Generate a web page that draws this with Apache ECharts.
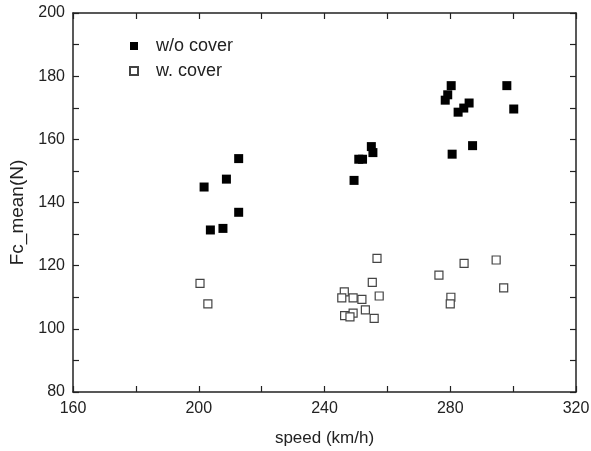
<!DOCTYPE html>
<html>
<head>
<meta charset="utf-8">
<script src="https://cdn.jsdelivr.net/npm/echarts@6/dist/echarts.min.js"></script>
<style>html,body{margin:0;padding:0;background:#fff}#c{width:591px;height:451px}</style>
</head>
<body>
<div id="c"></div>
<script>
var seriesNames = ['w/o cover', 'w. cover'];
var woSpeed = [201.7, 208.8, 212.7, 212.7, 203.7, 207.7, 249.4, 250.9, 252.1, 254.9, 255.4, 280.3, 279.2, 278.4, 286.0, 284.3, 282.5, 287.1, 280.6, 298.0, 300.2];
var woForce = [144.9, 147.4, 153.9, 136.9, 131.3, 131.8, 147.0, 153.7, 153.7, 157.7, 155.8, 177.0, 174.1, 172.4, 171.5, 169.9, 168.6, 158.0, 155.3, 177.0, 169.6];
var wSpeed = [200.4, 202.9, 256.7, 255.2, 246.3, 245.5, 249.1, 251.9, 257.4, 253.0, 249.1, 246.4, 248.1, 255.8, 276.4, 284.4, 294.6, 297.0, 280.2, 280.0];
var wForce = [114.4, 107.9, 122.3, 114.7, 111.7, 109.8, 109.8, 109.3, 110.4, 106.0, 105.0, 104.2, 103.8, 103.3, 117.0, 120.7, 121.8, 113.0, 110.0, 107.9];
var xTitle = 'speed (km/h)';
var yTitle = 'Fc_mean(N)';

function pairs(a, b) { return a.map(function (v, i) { return [v, b[i]]; }); }

var font = 'Liberation Sans';
var axisCol = '#222';
function xAx(pos, labels) {
  return {
    type: 'value', position: pos, min: 160, max: 320, interval: 40,
    name: labels ? xTitle : '', nameLocation: 'middle', nameGap: 38,
    nameTextStyle: { fontFamily: font, fontSize: 17, color: '#222' },
    axisLine: { show: true, onZero: false, lineStyle: { color: axisCol, width: 1.5 } },
    axisTick: { show: true, inside: true, length: 6, lineStyle: { color: axisCol, width: 1.2 } },
    minorTick: { show: true, splitNumber: 2, length: 6, lineStyle: { color: axisCol, width: 1.2 } },
    axisLabel: { show: labels, fontFamily: font, fontSize: 16, color: '#222', margin: 9 },
    splitLine: { show: false }, minorSplitLine: { show: false }
  };
}
function yAx(pos, labels) {
  return {
    type: 'value', position: pos, min: 80, max: 200, interval: 20,
    name: labels ? yTitle : '', nameLocation: 'middle', nameGap: 38,
    nameTextStyle: { fontFamily: font, fontSize: 19, color: '#222', padding: [0, 20, 0, 0] },
    axisLine: { show: true, onZero: false, lineStyle: { color: axisCol, width: 1.5 } },
    axisTick: { show: true, inside: true, length: 6, lineStyle: { color: axisCol, width: 1.2 } },
    minorTick: { show: true, splitNumber: 2, length: 6, lineStyle: { color: axisCol, width: 1.2 } },
    axisLabel: { show: labels, fontFamily: font, fontSize: 16, color: '#222', margin: 8 },
    splitLine: { show: false }, minorSplitLine: { show: false }
  };
}

var chart = echarts.init(document.getElementById('c'), null, { renderer: 'canvas' });
chart.setOption({
  animation: false,
  backgroundColor: '#fff',
  grid: { left: 73, right: 15, top: 13, bottom: 59, containLabel: false, outerBoundsMode: 'none' },
  legend: {
    orient: 'vertical', left: 124, top: 32, itemGap: 7, itemWidth: 8, itemHeight: 8,
    textStyle: { fontFamily: font, fontSize: 18, color: '#222', padding: [0, 0, 0, 13] },
    data: seriesNames
  },
  xAxis: [xAx('bottom', true), xAx('top', false)],
  yAxis: [yAx('left', true), yAx('right', false)],
  series: [
    { name: seriesNames[0], type: 'scatter', symbol: 'rect', symbolSize: 9,
      itemStyle: { color: '#000', opacity: 1 }, data: pairs(woSpeed, woForce) },
    { name: seriesNames[1], type: 'scatter', symbol: 'rect', symbolSize: 8,
      itemStyle: { color: '#fff', borderColor: '#444', borderWidth: 1.2, opacity: 1 }, data: pairs(wSpeed, wForce) }
  ]
});
</script>
</body>
</html>
